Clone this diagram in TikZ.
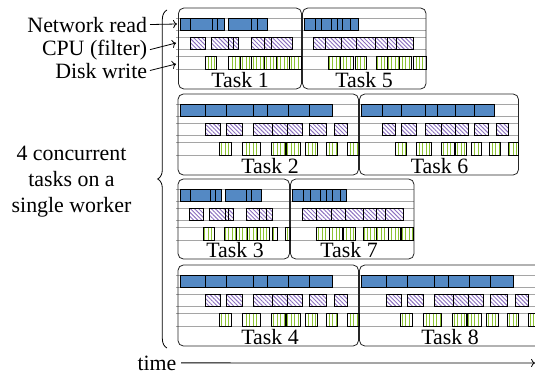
\documentclass[tikz,border=0pt]{standalone}
\usepackage{fontspec}
\setmainfont{Liberation Serif}
\usepackage{tikz}
\usetikzlibrary{arrows.meta, patterns.meta, decorations.pathreplacing}

\definecolor{netblue}{RGB}{84,137,196}
\definecolor{cpupurple}{RGB}{140,112,192}
\definecolor{diskgreen}{RGB}{140,195,50}
\definecolor{lanegray}{RGB}{165,165,165}

% one lane of work items: style, top edge, start/end pairs
\newcommand{\lanebars}[3]{%
  \foreach \a/\b in {#3} {\draw[#1] (\a,#2) rectangle (\b,#2+12.5);}}
% guide lines above and below the three lanes of a row
\newcommand{\lanelines}[3]{%
  \foreach \d in {0,12.5,19,31.5,38.5,51} {\draw[lane] (#1,#3+\d) -- (#2,#3+\d);}}
% the long task pattern (tasks 2, 4 and 8), lanes starting at 104
\newcommand{\longtask}{%
  \lanebars{net}{104}{180/205, 205/226.7, 226.7/253.3, 253.3/267.7, 267.7/288.3, 288.3/309.3, 309.3/332.3}
  \lanebars{cpu}{123}{205/220, 226/242.7, 253.3/272.7, 272.7/287.3, 287.3/302.7, 309.3/326.7, 334.3/347.7}
  \lanebars{disk}{142.5}{219.3/231.7, 242.7/260, 271.7/285, 286.7/300, 305/317.7, 326/337.7, 347.3/359.3}}

\begin{document}
\begin{tikzpicture}[x=0.75pt, y=-0.75pt, font=\fontsize{16.4}{19.5}\selectfont,
    taskbox/.style={draw=black!85, rounded corners=4pt, line width=0.6pt},
    lane/.style={draw=lanegray, line width=0.7pt},
    net/.style={draw=black, line width=0.45pt, fill=netblue},
    cpu/.style={draw=black, line width=0.45pt,
      pattern={Lines[angle=-45, distance=2.2pt, line width=0.7pt]}, pattern color=cpupurple},
    disk/.style={draw=black, line width=0.45pt,
      pattern={Lines[angle=90, distance=2.6pt, line width=0.7pt]}, pattern color=diskgreen},
    tasklabel/.style={anchor=base, inner sep=0pt},
    sidelabel/.style={anchor=base east, inner xsep=2pt}]
  \useasboundingbox (0,0) rectangle (535,375);
  \clip (0,0) rectangle (535,375);

  % resource labels
  \node[sidelabel] (netlbl) at (150,32) {Network read};
  \node[sidelabel] (cpulbl) at (150,55) {CPU (filter)};
  \node[sidelabel] (disklbl) at (150,78) {Disk write};
  \node[align=center] (conclbl) at (71.5,182) {4 concurrent\\tasks on a\\single worker};

  \coordinate (netin) at (177,24);
  \coordinate (cpuin) at (176,43);
  \coordinate (diskin) at (176,64);
  \draw[->, line width=0.6pt] (netlbl.east) -- (netin);
  \draw[->, line width=0.6pt] (cpulbl.east) -- (cpuin);
  \draw[->, line width=0.6pt] (disklbl.east) -- (diskin);

  % brace over the four rows
  \coordinate (bracetop) at (167,10);
  \coordinate (bracebot) at (167,348);
  \draw[decorate, decoration={brace, amplitude=7pt}, line width=0.6pt] (bracebot) -- (bracetop);

  % lanes
  \lanelines{176}{426}{18}
  \lanelines{176}{519}{104}
  \lanelines{176}{414}{189}
  \lanelines{176}{535}{275}

  % task frames
  \draw[taskbox] (178.5,8) rectangle (301.5,89);
  \draw[taskbox] (302.5,8) rectangle (426,89);
  \draw[taskbox] (178,94) rectangle (358.5,175);
  \draw[taskbox] (359.5,94) rectangle (518.5,175);
  \draw[taskbox] (178,179) rectangle (289.5,259);
  \draw[taskbox] (290.5,179) rectangle (414,259);
  \draw[taskbox] (178,265) rectangle (358.5,346);
  \draw[taskbox] (359.5,265) rectangle (541,346);

  \node[tasklabel] (taskone) at (240,87) {Task 1};
  \node[tasklabel] (taskfive) at (364,87) {Task 5};
  \node[tasklabel] (tasktwo) at (270,173) {Task 2};
  \node[tasklabel] (tasksix) at (439.5,173) {Task 6};
  \node[tasklabel] (taskthree) at (235,257.5) {Task 3};
  \node[tasklabel] (taskseven) at (349,257.5) {Task 7};
  \node[tasklabel] (taskfour) at (270,344) {Task 4};
  \node[tasklabel] (taskeight) at (450,344) {Task 8};

  % row 1
  \lanebars{net}{18}{180/190.7, 190.7/212, 212/217, 217/224.2, 228.3/251.7, 251.7/257, 257/267.7}
  \lanebars{net}{18}{304/315, 315/321.7, 321.7/331.7, 331.7/337.3, 337.3/342.7, 342.7/350, 350/358.3}
  \lanebars{cpu}{37}{190/205.5, 211/228.3, 228.3/233.3, 233.3/238, 251.7/264.3, 264.3/271.7, 271.7/292}
  \lanebars{cpu}{37}{313.3/325, 325/341.7, 341.7/356, 356/375, 375/387.3, 387.3/396.7, 396.7/413.3}
  \lanebars{disk}{56.5}{205/216.7, 228.3/240, 240/251.7, 251.7/264.3, 264.3/276.3, 276.3/289.5, 289.5/301.7}
  \lanebars{disk}{56.5}{328.3/340, 340/353.3, 355/366.7, 376/387.3, 387.3/399.3, 399.3/411.7, 413.3/426}

  % row 2
  \longtask
  \lanebars{net}{104}{361/382.3, 382.3/401.7, 401.7/425, 425/437.7, 437.7/455, 455/474.3, 474.3/494.3}
  \lanebars{cpu}{123}{382.3/395.7, 401/416, 425/441.7, 441.7/455, 455/468.3, 474.3/488.3, 496.7/508.3}
  \lanebars{disk}{142.5}{395.7/406.7, 416/431, 441.7/454.3, 455/466, 471/481.7, 489.3/500, 508.3/518.3}

  % row 3
  \lanebars{net}{189}{180/190, 190/210, 210/215, 215/221.7, 225/246.7, 246.7/251.7, 251.7/261.7}
  \lanebars{net}{189}{292.7/303.3, 303.3/310, 310/320, 320/326.7, 326.7/332.7, 332.7/340, 340/346.7}
  \lanebars{cpu}{208}{189.3/203.3, 209.3/225, 225/228.3, 228.3/233.3, 246.7/259.3, 259.3/266.7, 266.7/272.7}
  \lanebars{cpu}{208}{302.7/316.7, 316.7/331.7, 331.7/345, 345/363.3, 363.3/376.7, 376.7/385, 385/403.3}
  \lanebars{disk}{227.5}{203.3/214.3, 224.3/236, 236/247.7, 247.7/257.7, 257.7/269.3, 272.7/277.3, 285/290}
  \lanebars{disk}{227.5}{316.7/329.3, 329.3/342.7, 343.3/355, 363.3/376, 376/388.3, 388.3/400.7, 401.7/413.3}

  % row 4
  \begin{scope}[shift={(0,171)}]
    \longtask
  \end{scope}
  \begin{scope}[shift={(181,171)}]
    \longtask
  \end{scope}

  % time axis
  \node[anchor=base] (timelbl) at (157,370) {time};
  \coordinate (timeend) at (535,363);
  \draw[->, line width=0.6pt] (timelbl) -- (timeend);
\end{tikzpicture}
\end{document}
